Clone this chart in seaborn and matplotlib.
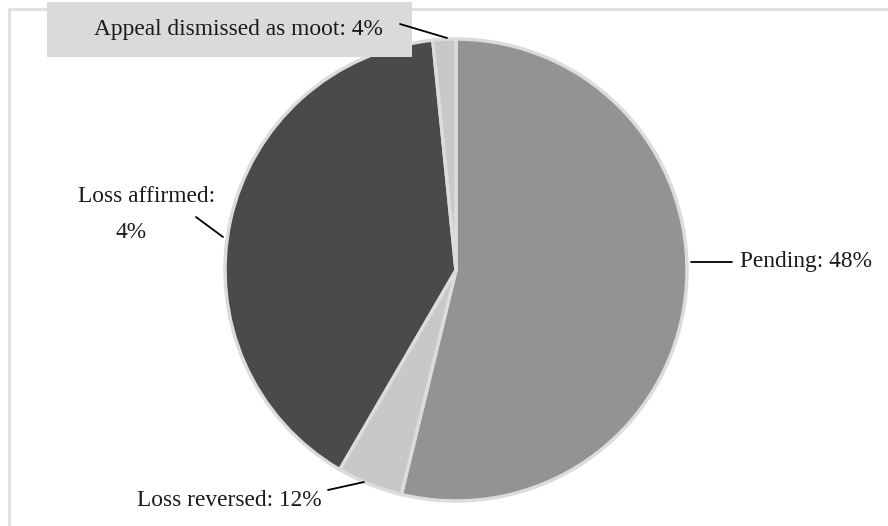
import numpy as np
import matplotlib
matplotlib.use("Agg")
import matplotlib.pyplot as plt
import seaborn as sns
from matplotlib.patches import Rectangle

categories = ["Pending", "Loss reversed", "Loss affirmed", "Appeal dismissed as moot"]
slice_values = [53.8, 4.6, 40.0, 1.6]
label_texts = ["Pending: 48%", "Loss reversed: 12%", "Loss affirmed:\n4%", "Appeal dismissed as moot: 4%"]
colors = ["#939395", "#c8c8c9", "#4a4a4c", "#c8c8c9"]

sns.set_theme(style="white")
plt.rcParams['font.family'] = ['Liberation Serif', 'DejaVu Serif']

W, H = 888, 526
fig = plt.figure(figsize=(W / 100, H / 100), dpi=100)

# frame (top and left edges visible)
fig.patches.append(Rectangle((9 / W, -0.1), 1.2, 1 - 9 / H + 0.1, transform=fig.transFigure,
                             fill=False, edgecolor="#dedede", linewidth=2, zorder=0))

cx, cy, r = 456, 270, 231
ax = fig.add_axes([(cx - r) / W, (H - cy - r) / H, 2 * r / W, 2 * r / H])
wedges, _ = ax.pie(slice_values, colors=colors, startangle=90, counterclock=False,
                   radius=1, wedgeprops=dict(edgecolor="#dcdcdc", linewidth=2.5))
ax.set_xlim(-1, 1)
ax.set_ylim(-1, 1)
ax.set_aspect("equal")
ax.axis("off")

def fpt(x, y):
    return (x / W, 1 - y / H)

fs = 16.8
tc = "#1a1a1a"
# Pending
fig.add_artist(plt.Line2D([691 / W, 732 / W], [1 - 262 / H, 1 - 262 / H], color="black", lw=1.3))
fig.text(*fpt(740, 262), label_texts[0], ha="left", va="center", fontsize=fs, color=tc)
# Loss reversed
fig.add_artist(plt.Line2D([328 / W, 364 / W], [1 - 490 / H, 1 - 482 / H], color="black", lw=1.3))
fig.text(*fpt(322, 500), label_texts[1], ha="right", va="center", fontsize=fs, color=tc)
# Loss affirmed
fig.add_artist(plt.Line2D([196 / W, 223 / W], [1 - 217 / H, 1 - 237 / H], color="black", lw=1.3))
l1, l2 = label_texts[2].split("\n")
fig.text(*fpt(147, 197), l1, ha="center", va="center", fontsize=fs, color=tc)
fig.text(*fpt(131, 232), l2, ha="center", va="center", fontsize=fs, color=tc)
# Appeal dismissed
fig.patches.append(Rectangle((47 / W, 1 - 57 / H), (412 - 47) / W, 55 / H, transform=fig.transFigure,
                             facecolor="#dadadb", edgecolor="none", zorder=1))
fig.add_artist(plt.Line2D([400 / W, 447 / W], [1 - 24 / H, 1 - 38 / H], color="black", lw=1.3, zorder=5))
fig.text(*fpt(383, 30), label_texts[3], ha="right", va="center", fontsize=fs, color=tc, zorder=5)

fig.savefig("out.png", dpi=100)
